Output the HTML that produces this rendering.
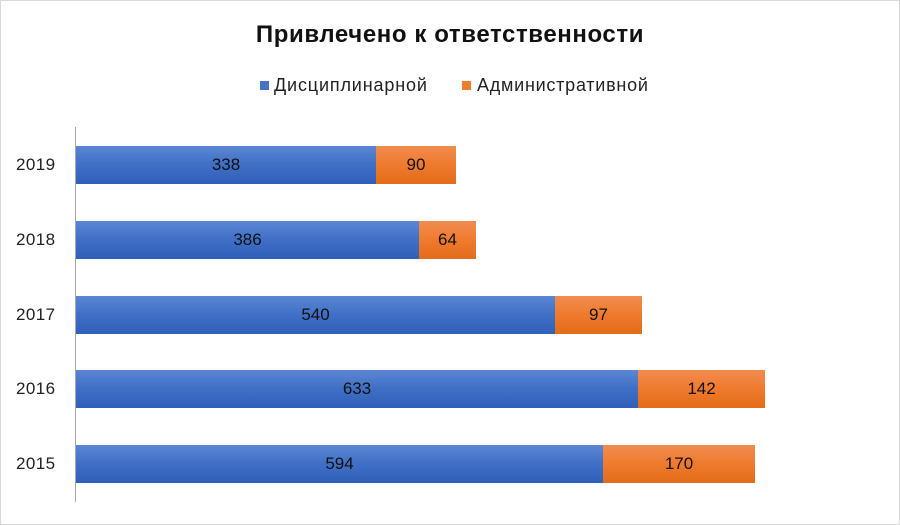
<!DOCTYPE html>
<html><head><meta charset="utf-8"><style>
body{margin:0;}
#c{position:relative;width:898px;height:523px;border:1px solid #d9d9d9;background:#fff;font-family:"Liberation Sans","DejaVu Sans",sans-serif;overflow:hidden}
.t{position:absolute;white-space:nowrap}
.b{position:absolute;height:38px;background:linear-gradient(#5b87d3,#3f6fc6 50%,#2f5fb8);}
.o{position:absolute;height:38px;background:linear-gradient(#f18c4f,#ef7a2e 50%,#e46c19);}
.l{position:absolute;height:38px;line-height:38px;text-align:center;font-size:17px;color:#111}
.y{position:absolute;left:15px;font-size:17px;color:#222;line-height:38px;letter-spacing:0.4px}
</style></head><body><div id="c">
<div class="t" style="left:0;width:898px;text-align:center;top:20px;font-size:24px;letter-spacing:0.6px;font-weight:bold;color:#111">Привлечено к ответственности</div>
<div style="position:absolute;left:259px;top:80px;width:9px;height:9px;background:#4472c4"></div>
<div class="t" style="left:273px;top:74px;font-size:18px;letter-spacing:0.85px;color:#222">Дисциплинарной</div>
<div style="position:absolute;left:461px;top:80px;width:9px;height:9px;background:#ed7d31"></div>
<div class="t" style="left:476px;top:74px;font-size:18px;letter-spacing:0.75px;color:#222">Административной</div>
<div style="position:absolute;left:74px;top:126px;width:1px;height:375px;background:#a6a6a6"></div>

<div class="b" style="left:75px;top:145px;width:300px"></div><div class="o" style="left:375px;top:145px;width:80px"></div>
<div class="l" style="left:75px;top:145px;width:300px">338</div><div class="l" style="left:375px;top:145px;width:80px">90</div>
<div class="y" style="top:145px">2019</div>

<div class="b" style="left:75px;top:220px;width:343px"></div><div class="o" style="left:418px;top:220px;width:57px"></div>
<div class="l" style="left:75px;top:220px;width:343px">386</div><div class="l" style="left:418px;top:220px;width:57px">64</div>
<div class="y" style="top:220px">2018</div>

<div class="b" style="left:75px;top:295px;width:479px"></div><div class="o" style="left:554px;top:295px;width:87px"></div>
<div class="l" style="left:75px;top:295px;width:479px">540</div><div class="l" style="left:554px;top:295px;width:87px">97</div>
<div class="y" style="top:295px">2017</div>

<div class="b" style="left:75px;top:369px;width:562px"></div><div class="o" style="left:637px;top:369px;width:127px"></div>
<div class="l" style="left:75px;top:369px;width:562px">633</div><div class="l" style="left:637px;top:369px;width:127px">142</div>
<div class="y" style="top:369px">2016</div>

<div class="b" style="left:75px;top:444px;width:527px"></div><div class="o" style="left:602px;top:444px;width:152px"></div>
<div class="l" style="left:75px;top:444px;width:527px">594</div><div class="l" style="left:602px;top:444px;width:152px">170</div>
<div class="y" style="top:444px">2015</div>
</div></body></html>
